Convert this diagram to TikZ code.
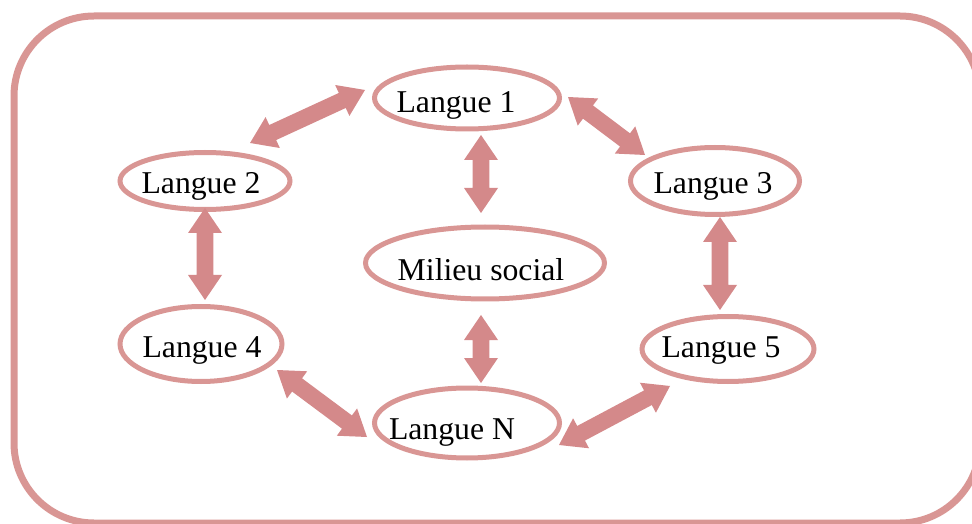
\documentclass[tikz,border=0pt]{standalone}
\usepackage{fontspec}
\setmainfont{Liberation Serif}
\usetikzlibrary{shapes.geometric,calc}

\definecolor{rim}{HTML}{D99694}
\definecolor{arrowpink}{HTML}{D4898A}

% block double arrow between two named points
\newcommand\headlen{18.75pt}
\newcommand\headhalf{12.75pt}
\newcommand\shafthalf{6.2pt}
\newcommand\linkarrow[2]{%
  \fill[arrowpink] (#1)
    -- ($(#1)!\headlen!(#2)!\headhalf!90:(#2)$)
    -- ($(#1)!\headlen!(#2)!\shafthalf!90:(#2)$)
    -- ($(#2)!\headlen!(#1)!\shafthalf!-90:(#1)$)
    -- ($(#2)!\headlen!(#1)!\headhalf!-90:(#1)$)
    -- (#2)
    -- ($(#2)!\headlen!(#1)!\headhalf!90:(#1)$)
    -- ($(#2)!\headlen!(#1)!\shafthalf!90:(#1)$)
    -- ($(#1)!\headlen!(#2)!\shafthalf!-90:(#2)$)
    -- ($(#1)!\headlen!(#2)!\headhalf!-90:(#2)$)
    -- cycle;}

\begin{document}
\begin{tikzpicture}[x=0.75pt,y=-0.75pt,
  lang/.style={ellipse, draw=rim, line width=3.75pt, inner sep=0pt},
  word/.style={font=\fontsize{23.8pt}{28pt}\selectfont, inner sep=0pt, text=black},
  frame/.style={draw=rim, line width=5.25pt, rounded corners=60pt}]

\useasboundingbox (0,0) rectangle (972,524);

% outer frame
\draw[frame] (14,16) rectangle (980,523);

% languages and social setting
\node[lang, minimum width=138.75pt, minimum height=46.5pt,
      label={[word, shift={(-11,7)}]center:Langue 1}] (l1) at (467,98) {};
\node[lang, minimum width=127.5pt, minimum height=42.75pt,
      label={[word, shift={(-4,5)}]center:Langue 2}] (l2) at (205,181) {};
\node[lang, minimum width=126.75pt, minimum height=50.25pt,
      label={[word, shift={(-2,5)}]center:Langue 3}] (l3) at (715,181) {};
\node[lang, minimum width=179.25pt, minimum height=54pt,
      label={[word, shift={(-4,7)}]center:Milieu social}] (ms) at (485,263) {};
\node[lang, minimum width=121.5pt, minimum height=56.25pt,
      label={[word, shift={(1,6)}]center:Langue 4}] (l4) at (201,344) {};
\node[lang, minimum width=129pt, minimum height=48.75pt,
      label={[word, shift={(-7,2)}]center:Langue 5}] (l5) at (728,349) {};
\node[lang, minimum width=138.75pt, minimum height=52.5pt,
      label={[word, shift={(-15,10)}]center:Langue N}] (ln) at (467,423) {};

% arrow ends beside each ellipse
\coordinate (e1a) at ($(l1)+(-102,-8)$);
\coordinate (e1b) at ($(l2)+(45,-38)$);
\coordinate (e2a) at ($(l1)+(14,37)$);
\coordinate (e2b) at ($(ms)+(-4,-50)$);
\coordinate (e3a) at ($(l1)+(101,-1)$);
\coordinate (e3b) at ($(l3)+(-70,-26)$);
\coordinate (e4a) at ($(l2)+(0,27)$);
\coordinate (e4b) at ($(l4)+(4,-44)$);
\coordinate (e5a) at ($(l3)+(5,36)$);
\coordinate (e5b) at ($(l5)+(-8,-39)$);
\coordinate (e6a) at ($(ms)+(-4,52)$);
\coordinate (e6b) at ($(ln)+(14,-40)$);
\coordinate (e7a) at ($(l4)+(76,26)$);
\coordinate (e7b) at ($(ln)+(-100,14)$);
\coordinate (e8a) at ($(ln)+(92,22)$);
\coordinate (e8b) at ($(l5)+(-58,37)$);

% exchanges
\linkarrow{e1a}{e1b}
\linkarrow{e2a}{e2b}
\linkarrow{e3a}{e3b}
\linkarrow{e4a}{e4b}
\linkarrow{e5a}{e5b}
\linkarrow{e6a}{e6b}
\linkarrow{e7a}{e7b}
\linkarrow{e8a}{e8b}

\end{tikzpicture}
\end{document}
